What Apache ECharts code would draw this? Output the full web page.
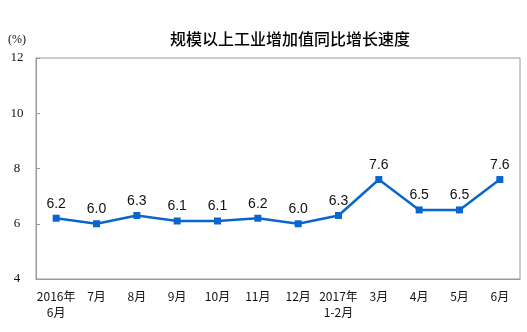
<!DOCTYPE html>
<html>
<head>
<meta charset="utf-8">
<script src="https://cdn.jsdelivr.net/npm/echarts@6/dist/echarts.min.js"></script>
<style>
html,body{margin:0;padding:0;background:#fff;}
#chart{width:527px;height:332px;}
</style>
</head>
<body>
<div id="chart"></div>
<script>
// Monthly industrial value-added growth, year on year (%)
const months = ['2016年\n6月', '7月', '8月', '9月', '10月', '11月', '12月', '2017年\n1-2月', '3月', '4月', '5月', '6月'];
const growth = [6.2, 6.0, 6.3, 6.1, 6.1, 6.2, 6.0, 6.3, 7.6, 6.5, 6.5, 7.6];
const yTicks = [4, 6, 8, 10, 12];

const chart = echarts.init(document.getElementById('chart'));
chart.setOption({
  animation: false,
  title: {
    text: '规模以上工业增加值同比增长速度',
    left: 285, top: 26, textAlign: 'center',
    textStyle: { fontFamily: 'Noto Sans CJK SC', fontSize: 16, fontWeight: 500, color: '#000' }
  },
  grid: { left: 36, right: 7, top: 58, bottom: 53, show: true, borderColor: '#999', borderWidth: 1 },
  xAxis: {
    type: 'category',
    data: months,
    boundaryGap: true,
    axisLine: { lineStyle: { color: '#999' } },
    axisTick: { inside: true, length: 4, lineStyle: { color: '#999' } },
    axisLabel: { color: '#111', fontSize: 12, fontFamily: 'Noto Sans CJK SC', lineHeight: 16, margin: 9, interval: 0 }
  },
  yAxis: {
    type: 'value',
    min: yTicks[0], max: yTicks[yTicks.length - 1], interval: 2,
    name: '(%)', nameLocation: 'end', nameGap: 12,
    nameTextStyle: { fontFamily: 'Liberation Serif', fontSize: 12, color: '#111', align: 'center', padding: [0, 0, 0, -38] },
    splitLine: { show: false },
    axisLine: { show: true, lineStyle: { color: '#999' } },
    axisTick: { show: true, inside: true, length: 4, lineStyle: { color: '#999' } },
    axisLabel: { color: '#111', fontSize: 13, fontFamily: 'Liberation Serif', margin: 19, align: 'center' }
  },
  series: [{
    type: 'line',
    data: growth,
    symbol: 'rect', symbolSize: 7,
    lineStyle: { color: '#0a66cc', width: 2.5 },
    itemStyle: { color: '#0a66cc' },
    label: { show: true, position: 'top', distance: 4, color: '#111', fontSize: 14, fontFamily: 'Liberation Sans', formatter: p => p.value.toFixed(1) }
  }]
});
</script>
</body>
</html>
